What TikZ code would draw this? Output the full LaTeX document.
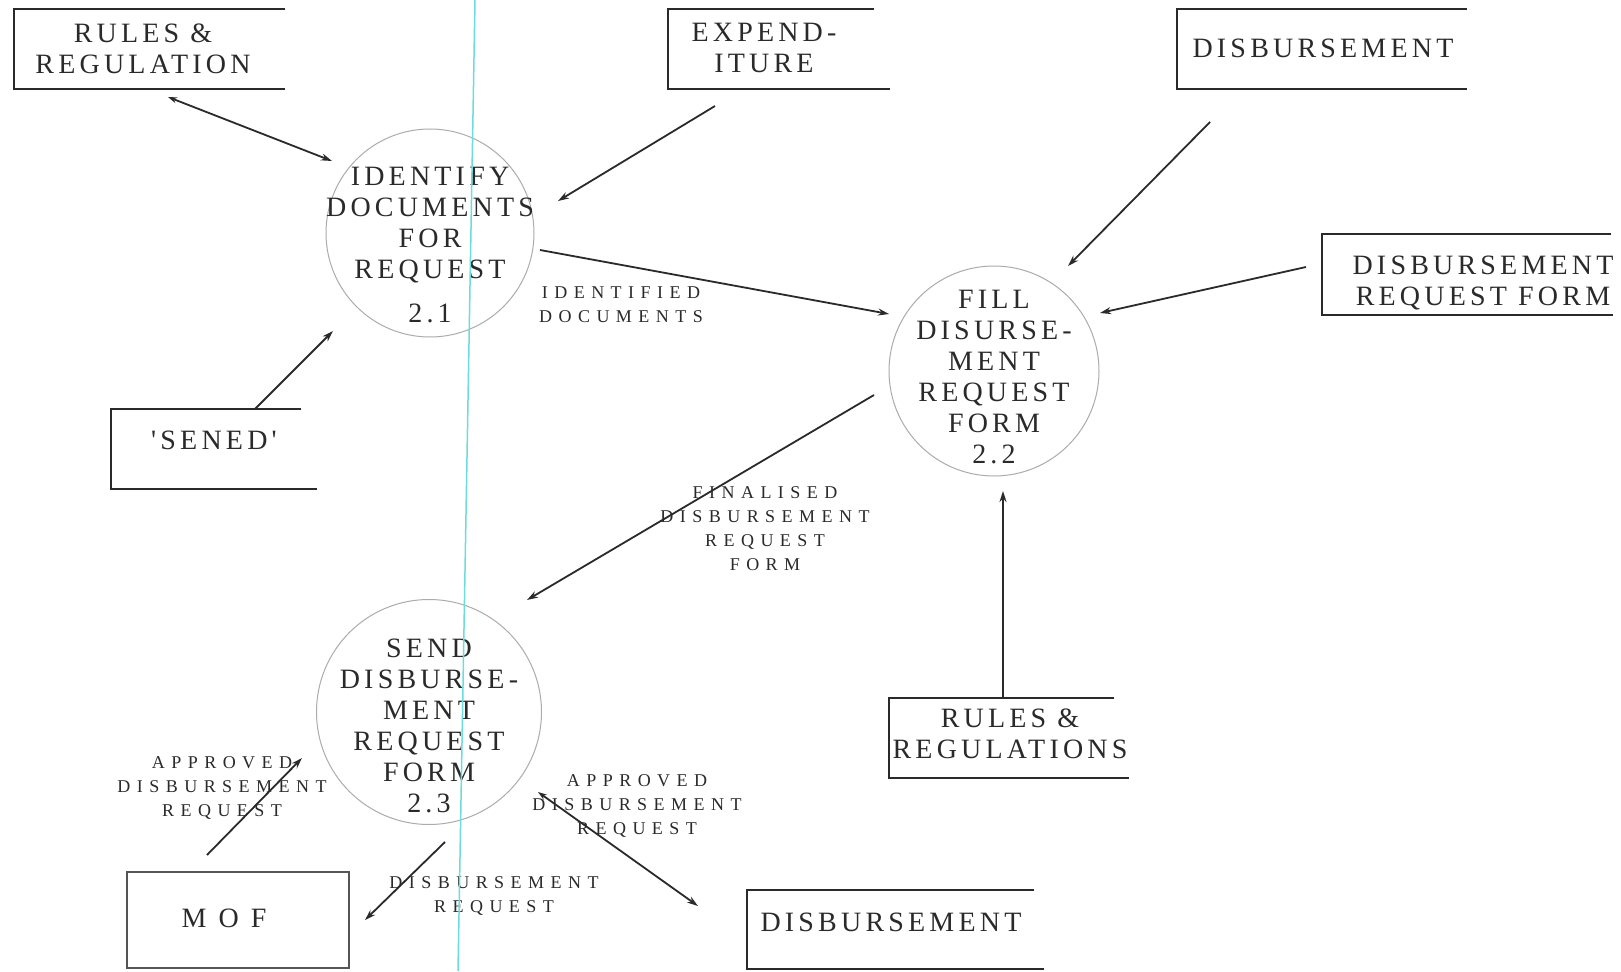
\documentclass[tikz,border=0pt]{standalone}
\usepackage{fontspec}
\setmainfont{Liberation Serif}
\newfontfamily\boxfont[LetterSpace=15]{Liberation Serif}
\newfontfamily\lblfont[LetterSpace=36]{Liberation Serif}
\usetikzlibrary{arrows.meta}
\definecolor{ink}{HTML}{2A2A2A}
\definecolor{guide}{RGB}{110,220,220}
\newcommand{\mlines}[1]{\begin{tabular}[t]{@{}c@{}}#1\end{tabular}}
\begin{document}
\begin{tikzpicture}[x=1pt,y=-1pt,
  boxline/.style={line width=2.2pt, draw=ink},
  mofbox/.style={line width=1.2pt, draw=ink!80},
  proc/.style={circle, draw=gray!65, line width=1pt, minimum size=#1, inner sep=0pt},
  flow/.style={line width=1.8pt, draw=ink, -{Stealth[length=11pt,width=7pt]}},
  flowboth/.style={line width=1.8pt, draw=ink, {Stealth[length=9pt,width=6pt]}-{Stealth[length=11pt,width=7pt]}},
  boxtext/.style={anchor=base, inner sep=0pt, font=\boxfont\fontsize{28}{31}\selectfont, text=ink},
  lbl/.style={anchor=base, inner sep=0pt, font=\lblfont\fontsize{18}{24}\selectfont, text=ink}]
\useasboundingbox (0,0) rectangle (1621,971);
\fill[white] (0,0) rectangle (1621,971);

% ---------- stores / terminators ----------
\draw[boxline] (285,9) -- (14,9) -- (14,89) -- (285,89);
\node[boxtext] (t-rules1) at (143,43) {\mlines{RULES \&\\REGULATION}};

\draw[boxline] (874,9) -- (668,9) -- (668,89) -- (890,89);
\node[boxtext] (t-exp) at (764,42) {\mlines{EXPEND-\\ITURE}};

\draw[boxline] (1467,9) -- (1177,9) -- (1177,89) -- (1467,89);
\node[boxtext] (t-disb1) at (1323,58) {DISBURSEMENT};

\draw[boxline] (1611,234) -- (1322,234) -- (1322,315) -- (1613,315);
\node[boxtext] (t-drf) at (1483,274) {\mlines{DISBURSEMENT\\REQUEST FORM}};

\draw[boxline] (301,409) -- (111,409) -- (111,489) -- (317,489);
\node[boxtext] (t-sened) at (214,449) {'SENED'};

\draw[mofbox] (127,872) rectangle (349,968);
\node[boxtext] (t-mof) at (224,927) {M\hspace{12pt}O\hspace{12pt}F};

\draw[boxline] (1114,698) -- (889,698) -- (889,778) -- (1129,778);
\node[boxtext] (t-rules2) at (1010,727) {\mlines{RULES \&\\REGULATIONS}};

\draw[boxline] (1034,890) -- (747,890) -- (747,969) -- (1044,969);
\node[boxtext] (t-disb2) at (891,931) {DISBURSEMENT};

% ---------- processes ----------
\node[proc=208pt] (c1) at (430,233) {};
\node[boxtext] (t-c1) at (430,185) {\mlines{IDENTIFY\\DOCUMENTS\\FOR\\REQUEST\\[13pt]2.1}};

\node[proc=210pt] (c2) at (994,371) {};
\node[boxtext] (t-c2) at (994,308) {\mlines{FILL\\DISURSE-\\MENT\\REQUEST\\FORM\\2.2}};

\node[proc=225pt] (c3) at (429,712) {};
\node[boxtext] (t-c3) at (429,657) {\mlines{SEND\\DISBURSE-\\MENT\\REQUEST\\FORM\\2.3}};

% ---------- flow end points ----------
\coordinate (a1s) at (168,97);   \coordinate (a1e) at (332,161);
\coordinate (a2s) at (715,106);  \coordinate (a2e) at (558,201);
\coordinate (a3s) at (540,250);  \coordinate (a3e) at (889,314);
\coordinate (a4s) at (1210,122); \coordinate (a4e) at (1068,266);
\coordinate (a5s) at (1306,267); \coordinate (a5e) at (1100,313);
\coordinate (a6s) at (874,395);  \coordinate (a6e) at (527,600);
\coordinate (a7s) at (1003,698); \coordinate (a7e) at (1003,491);
\coordinate (a8s) at (207,855);  \coordinate (a8e) at (302,758);
\coordinate (a9s) at (445,842);  \coordinate (a9e) at (365,920);
\coordinate (a10s) at (538,792); \coordinate (a10e) at (698,906);
\coordinate (a11s) at (255,409); \coordinate (a11e) at (333,331);

% ---------- flows ----------
\draw[flowboth] (a1s) -- (a1e);
\draw[flow] (a2s) -- (a2e);
\draw[flow] (a3s) -- (a3e);
\draw[flow] (a4s) -- (a4e);
\draw[flow] (a5s) -- (a5e);
\draw[flow] (a6s) -- (a6e);
\draw[flow] (a7s) -- (a7e);
\draw[flow] (a8s) -- (a8e);
\draw[flow] (a9s) -- (a9e);
\draw[flowboth] (a10s) -- (a10e);
\draw[flow] (a11s) -- (a11e);

% ---------- flow labels ----------
\node[lbl] (l-ident) at (621,298) {\mlines{IDENTIFIED\\DOCUMENTS}};
\node[lbl] (l-final) at (765,498) {\mlines{FINALISED\\DISBURSEMENT\\REQUEST\\FORM}};
\node[lbl] (l-appr1) at (222,768) {\mlines{APPROVED\\DISBURSEMENT\\REQUEST}};
\node[lbl] (l-dreq) at (494,888) {\mlines{DISBURSEMENT\\REQUEST}};
\node[lbl] (l-appr2) at (637,786) {\mlines{APPROVED\\DISBURSEMENT\\REQUEST}};

% ---------- scan guide line ----------
\draw[guide, line width=1.5pt] (475,0) -- (458,971);
\end{tikzpicture}
\end{document}
